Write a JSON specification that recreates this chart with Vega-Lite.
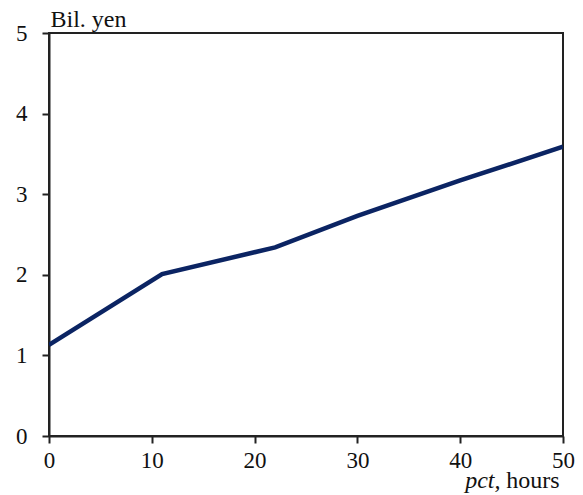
{
  "$schema": "https://vega.github.io/schema/vega-lite/v6.json",
  "width": 514,
  "height": 403,
  "autosize": "none",
  "padding": {"left": 49, "top": 33, "right": 20, "bottom": 59},
  "background": "white",
  "config": {
    "view": {"stroke": "#222222", "strokeWidth": 2},
    "axis": {
      "labelFont": "'Liberation Serif', 'Times New Roman', serif",
      "titleFont": "'Liberation Serif', 'Times New Roman', serif",
      "labelFontSize": 23,
      "titleFontSize": 24,
      "labelColor": "#111111",
      "titleColor": "#111111",
      "titleFontWeight": "normal",
      "grid": false,
      "domainColor": "#222222",
      "domainWidth": 2,
      "tickColor": "#222222",
      "tickWidth": 2,
      "tickSize": 7
    }
  },
  "data": {
    "values": [
      {"x": 0, "y": 1.13},
      {"x": 11, "y": 2.01},
      {"x": 22, "y": 2.34},
      {"x": 30, "y": 2.73},
      {"x": 40, "y": 3.17},
      {"x": 50, "y": 3.59}
    ]
  },
  "layer": [
    {
      "mark": {"type": "line", "color": "#0b2463", "strokeWidth": 4.5, "clip": true},
      "encoding": {
        "x": {
          "field": "x", "type": "quantitative",
          "scale": {"domain": [0, 50], "nice": false, "zero": false},
          "axis": {
            "values": [0, 10, 20, 30, 40, 50],
            "format": "d",
            "labelPadding": 6,
            "labelFlush": false,
            "labelOverlap": false,
            "title": "pct,",
            "titleFontStyle": "italic",
            "titleAlign": "right",
            "titleAnchor": null,
            "titleX": 451,
            "titleY": 51,
            "titleBaseline": "alphabetic"
          }
        },
        "y": {
          "field": "y", "type": "quantitative",
          "scale": {"domain": [0, 5], "nice": false},
          "axis": {
            "values": [0, 1, 2, 3, 4, 5],
            "format": "d",
            "labelPadding": 15,
            "labelFlush": false,
            "labelOverlap": false,
            "title": "Bil. yen",
            "titleAngle": 0,
            "titleAlign": "left",
            "titleAnchor": null,
            "titleX": 1,
            "titleY": -7,
            "titleBaseline": "alphabetic"
          }
        }
      }
    },
    {
      "mark": {"type": "line", "opacity": 0},
      "encoding": {
        "x": {
          "field": "x", "type": "quantitative",
          "scale": {"domain": [0, 50], "nice": false, "zero": false},
          "axis": {
            "orient": "bottom",
            "labels": false,
            "ticks": false,
            "domain": false,
            "title": "hours",
            "titleAlign": "right",
            "titleAnchor": null,
            "titleX": 510,
            "titleY": 51,
            "titleBaseline": "alphabetic"
          }
        },
        "y": {"field": "y", "type": "quantitative"}
      }
    }
  ],
  "resolve": {"axis": {"x": "independent"}}
}
